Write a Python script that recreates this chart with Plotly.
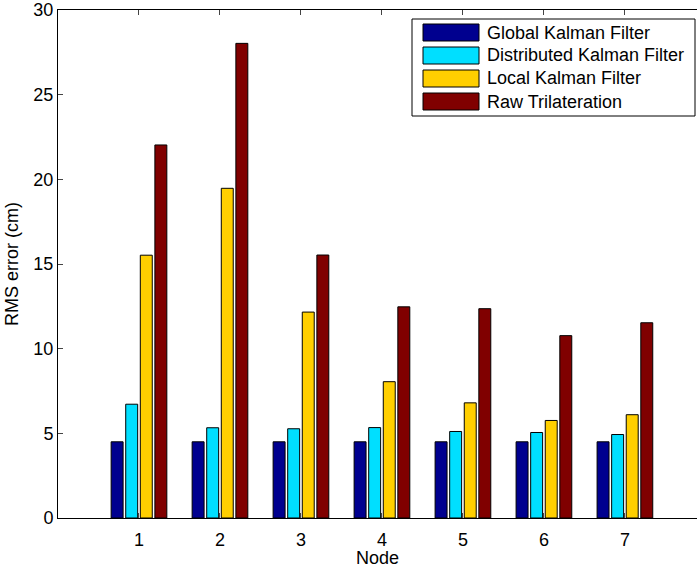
import plotly.graph_objects as go

# RMS positioning error per node for each estimation method
nodes = [1, 2, 3, 4, 5, 6, 7]
series_names = [
    "Global Kalman Filter",
    "Distributed Kalman Filter",
    "Local Kalman Filter",
    "Raw Trilateration",
]
global_kf = [4.5, 4.5, 4.5, 4.5, 4.5, 4.5, 4.5]
distributed_kf = [6.72, 5.33, 5.27, 5.34, 5.11, 5.05, 4.93]
local_kf = [15.52, 19.47, 12.16, 8.05, 6.80, 5.76, 6.10]
raw_trilateration = [22.03, 28.03, 15.53, 12.47, 12.36, 10.77, 11.53]
series_values = [global_kf, distributed_kf, local_kf, raw_trilateration]
series_colors = ["#00008F", "#00DFFF", "#FFCF00", "#800000"]

W, H = 697, 568
ML, MR, MT, MB = 58, 0, 10, 50
FONT = "Liberation Sans, Arial, Helvetica, sans-serif"

fig = go.Figure()
for name, vals, col in zip(series_names, series_values, series_colors):
    fig.add_trace(go.Bar(
        x=nodes, y=vals, name=name,
        marker=dict(color=col, line=dict(color="black", width=1)),
        showlegend=False,
    ))

# Legend drawn as a boxed key with wide colour swatches
plot_w = W - ML - MR
plot_h = H - MT - MB


def px_x(x):
    return (x - ML) / plot_w


def px_y(y):
    return (H - MB - y) / plot_h


shapes = [dict(type="rect", xref="paper", yref="paper",
               x0=px_x(412), x1=px_x(695), y0=px_y(116), y1=px_y(19),
               line=dict(color="black", width=1), fillcolor="white", layer="above")]
annotations = []
row_y = [32.5, 55.5, 78.5, 101.5]
for name, col, yc in zip(series_names, series_colors, row_y):
    shapes.append(dict(type="rect", xref="paper", yref="paper",
                       x0=px_x(423), x1=px_x(479), y0=px_y(yc + 8.5), y1=px_y(yc - 8.5),
                       line=dict(color="black", width=1), fillcolor=col, layer="above"))
    annotations.append(dict(xref="paper", yref="paper", x=px_x(485), y=px_y(yc),
                            xanchor="left", yanchor="middle", text=name, showarrow=False,
                            font=dict(family=FONT, size=18, color="black")))

fig.update_layout(
    width=W, height=H,
    margin=dict(l=ML, r=MR, t=MT, b=MB, pad=0),
    paper_bgcolor="white", plot_bgcolor="white",
    barmode="group", bargap=0.28, bargroupgap=0.18,
    font=dict(family=FONT, size=18, color="black"),
    shapes=shapes, annotations=annotations,
    xaxis=dict(
        range=[0, 7.89], tickvals=nodes, ticks="inside", ticklen=5,
        showline=True, linecolor="black", linewidth=1, mirror="ticks",
        showgrid=False, zeroline=False, ticklabelstandoff=5,
        title=dict(text="Node", standoff=4, font=dict(size=18)),
    ),
    yaxis=dict(
        range=[0, 30], dtick=5, ticks="inside", ticklen=5,
        showline=True, linecolor="black", linewidth=1,
        showgrid=False, zeroline=False,
        title=dict(text="RMS error (cm)", standoff=10, font=dict(size=18)),
    ),
)

fig.write_html("out.html")
